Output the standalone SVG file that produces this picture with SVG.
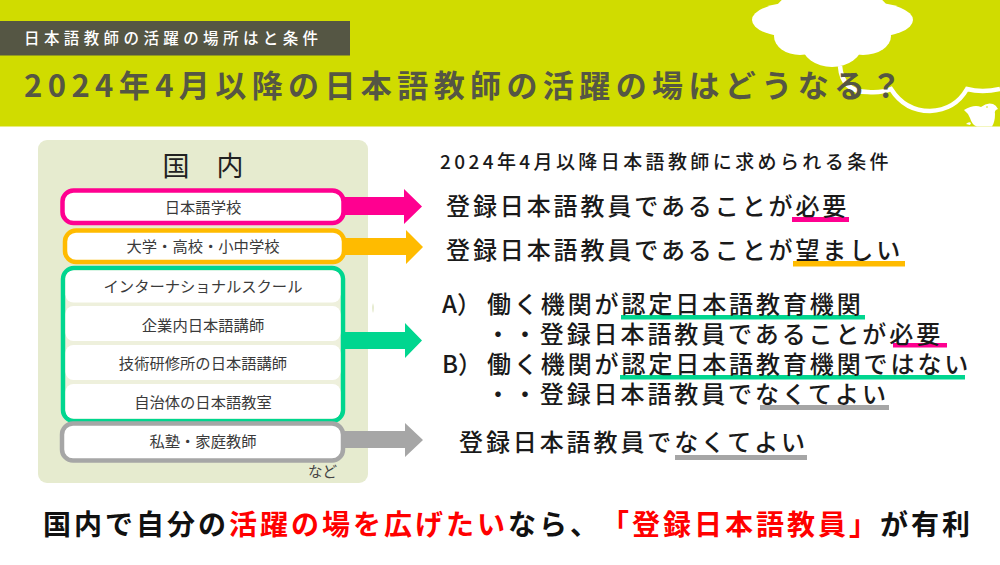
<svg xmlns="http://www.w3.org/2000/svg" width="1000" height="565" viewBox="0 0 1000 565">
<style>
text{font-family:"Noto Sans CJK JP","Noto Sans",sans-serif;text-spacing-trim:space-all;font-feature-settings:"palt" 0}
.row{font-size:15.300px;fill:#3a3a3a;text-anchor:middle}
.cond{font-size:24px;font-weight:500;fill:#1a1a1a;letter-spacing:2.900px}
.box{fill:#fff;stroke-width:4.500}
.red{fill:#f00}
</style>
<rect width="1000" height="565" fill="#fff"/>
<g id="header">
<rect width="1000" height="126.500" fill="#d0dc00"/>
<g id="cloud" fill="#fff">
<ellipse cx="795" cy="20" rx="43" ry="17.500"/>
<ellipse cx="870" cy="20" rx="43" ry="17.500"/>
<ellipse cx="832" cy="15" rx="58" ry="30"/>
<ellipse cx="800" cy="36" rx="26" ry="19"/>
<ellipse cx="863" cy="36" rx="28" ry="19"/>
<ellipse cx="832" cy="45" rx="30" ry="22"/>
</g>
<path d="M840 66Q842 92 868 92Q882 93 891 89Q905 111 930 111Q955 110 967 89Q982 93 1000 89" fill="none" stroke="#fff" stroke-width="4.500"/>
<path id="bird" d="M964 110Q974 104 981 107Q987 102 993 104Q996 105 998 109Q994 110 995 114Q995 122 992 126.500H977Q972 125 970 118Q968 113 964 110ZM966 124Q969 121 971 123L970 125Z" fill="#fff"/>
<circle cx="987" cy="107" r="0.800" fill="#d0dc00"/>
<rect x="0" y="21" width="350" height="34.500" fill="#555644"/>
<text x="24" y="43.500" font-size="15.500" font-weight="500" fill="#fff" letter-spacing="4.400">日本語教師の活躍の場所はと条件</text>
<text x="24" y="97" font-size="31" font-weight="700" fill="#555644" letter-spacing="5.400">2024年4月以降の日本語教師の活躍の場はどうなる？</text>
</g>
<g id="panel">
<rect x="38" y="140" width="330" height="343" rx="9" fill="#e6ebcf"/>
<text x="203" y="176" font-size="27" fill="#222" text-anchor="middle">国　内</text>
<text x="322.500" y="477" font-size="14.500" fill="#444" text-anchor="middle">など</text>
</g>
<path d="M373 303Q371 308 373 313Q375 308 373 303Z" fill="#e6ebcf"/>
<g id="connectors">
<path d="M343 197H404V189L422 206.500L404 224V215H343Z" fill="#ff0090"/>
<path d="M343 238H406V230L423 247L406 264V255H343Z" fill="#ffbb00"/>
<path d="M343 332H405V323L422 340.500L405 358V349H343Z" fill="#00d68f"/>
<path d="M343 431H405V423L423 440L405 457V448H343Z" fill="#a6a6a6"/>
</g>
<g id="node-nihongo-gakko">
<rect class="box" x="62.500" y="190.500" width="281" height="32.500" rx="11" stroke="#ff0090"/>
<text class="row" x="203" y="213">日本語学校</text>
</g>
<g id="node-daigaku">
<rect class="box" x="65" y="230.500" width="279" height="31.500" rx="11" stroke="#ffbb00"/>
<text class="row" x="203" y="252">大学・高校・小中学校</text>
</g>
<g id="node-green">
<rect x="63" y="268" width="280" height="153" rx="11" fill="#eef0dc" stroke="#00d68f" stroke-width="4.500"/>
<rect x="65.500" y="270.500" width="275" height="32" rx="8" fill="#fff"/>
<rect x="65.500" y="306" width="275" height="35" rx="8" fill="#fff"/>
<rect x="65.500" y="345" width="275" height="35" rx="8" fill="#fff"/>
<rect x="65.500" y="384" width="275" height="34.500" rx="8" fill="#fff"/>
<text class="row" x="203" y="291.500">インターナショナルスクール</text>
<text class="row" x="203" y="331">企業内日本語講師</text>
<text class="row" x="203" y="369">技術研修所の日本語講師</text>
<text class="row" x="203" y="408">自治体の日本語教室</text>
</g>
<g id="node-shijuku">
<rect class="box" x="62" y="423.500" width="281" height="37" rx="11" stroke="#a6a6a6"/>
<text class="row" x="203" y="447">私塾・家庭教師</text>
</g>
<g id="underlines">
<rect x="792" y="217" width="57" height="5" fill="#ff0090"/>
<rect x="793" y="261" width="112" height="5.500" fill="#ffbb00"/>
<rect x="621" y="315" width="244" height="4.500" fill="#00d68f"/>
<rect x="893" y="343" width="54" height="4.500" fill="#ff0090"/>
<rect x="620" y="375" width="345" height="4.500" fill="#00d68f"/>
<rect x="760" y="405" width="129" height="5" fill="#a6a6a6"/>
<rect x="675" y="455" width="132" height="5" fill="#a6a6a6"/>
</g>
<g id="conditions">
<text x="440" y="169" font-size="19" font-weight="500" fill="#1a1a1a" letter-spacing="3.400">2024年4月以降日本語教師に求められる条件</text>
<text class="cond" x="446" y="215">登録日本語教員であることが必要</text>
<text class="cond" x="446" y="259">登録日本語教員であることが望ましい</text>
<text class="cond" x="442" y="313" style="letter-spacing:0">A）</text>
<text class="cond" x="487" y="313">働く機関が認定日本語教育機関</text>
<text class="cond" x="486" y="343">・・登録日本語教員であることが必要</text>
<text class="cond" x="442" y="373" style="letter-spacing:0">B）</text>
<text class="cond" x="487" y="373">働く機関が認定日本語教育機関ではない</text>
<text class="cond" x="486" y="403">・・登録日本語教員でなくてよい</text>
<text class="cond" x="459" y="451">登録日本語教員でなくてよい</text>
</g>
<text id="conclusion" x="43" y="535" font-size="28" font-weight="700" fill="#111" letter-spacing="3">国内で自分の<tspan class="red">活躍の場を広げたい</tspan>なら、<tspan class="red">「登録日本語教員」</tspan>が有利</text>
</svg>
